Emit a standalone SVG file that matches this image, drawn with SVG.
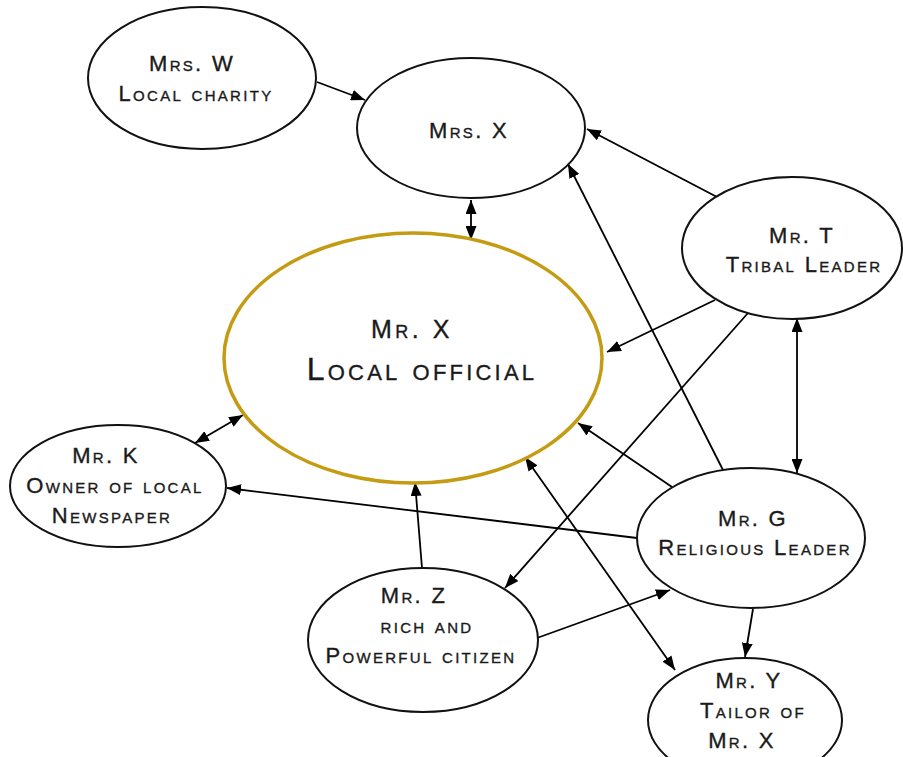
<svg xmlns="http://www.w3.org/2000/svg" width="903" height="757" viewBox="0 0 903 757">
<defs>
<marker id="ah" markerUnits="userSpaceOnUse" markerWidth="15" markerHeight="11" refX="14" refY="5.5" orient="auto-start-reverse" viewBox="0 0 15 11">
<path d="M0,0 L14,5.5 L0,11 Z" fill="#000"/>
</marker>
<style>
.n{fill:#fff;stroke:#111;stroke-width:2}
.main{fill:#fff;stroke:#C49B12;stroke-width:3.5}
text{font-family:"Liberation Sans",Arial,sans-serif;font-variant:small-caps;fill:#1a1a1a;stroke:#1a1a1a;stroke-width:0.35;text-anchor:middle;font-size:22px;letter-spacing:2.3px}
.c line{stroke:#000;stroke-width:1.8;marker-end:url(#ah)}
.c line.d{marker-start:url(#ah)}
</style>
</defs>
<rect width="903" height="757" fill="#fff"/>
<g class="c" id="connectors">
<line x1="317" y1="82" x2="365" y2="100"/>
<line class="d" x1="471" y1="200" x2="471" y2="240"/>
<line x1="717" y1="197" x2="587" y2="129"/>
<line x1="723" y1="470" x2="568" y2="164"/>
<line x1="715" y1="300" x2="607" y2="352"/>
<line x1="748" y1="313" x2="505" y2="588"/>
<line class="d" x1="797" y1="318" x2="797" y2="473"/>
<line x1="672" y1="487" x2="578" y2="423"/>
<line x1="637" y1="538" x2="227" y2="488"/>
<line class="d" x1="195" y1="443" x2="243" y2="415"/>
<line x1="422" y1="568" x2="415" y2="482"/>
<line x1="537" y1="638" x2="670" y2="590"/>
<line class="d" x1="525" y1="457" x2="675" y2="670"/>
<line x1="753" y1="609" x2="745" y2="657"/>
</g>
<g id="mrsw"><ellipse class="n" cx="202" cy="78" rx="114" ry="71"/><text x="192" y="71">Mrs. W</text><text x="196" y="101">Local charity</text></g>
<g id="mrsx"><ellipse class="n" cx="471" cy="128" rx="114" ry="70"/><text x="469" y="138">Mrs. X</text></g>
<g id="mrt"><ellipse class="n" cx="792" cy="248" rx="110" ry="71"/><text x="802" y="243">Mr. T</text><text x="804" y="272">Tribal Leader</text></g>
<g id="mrx"><ellipse class="main" cx="413" cy="358" rx="189" ry="125"/><text x="412" y="338" style="font-size:25px;letter-spacing:3.5px">Mr. X</text><text x="422" y="380" style="font-size:32px;letter-spacing:3.2px">Local official</text></g>
<g id="mrk"><ellipse class="n" cx="118" cy="486" rx="108" ry="61"/><text x="106" y="463">Mr. K</text><text x="115" y="493">Owner of local</text><text x="112" y="523">Newspaper</text></g>
<g id="mrz"><ellipse class="n" cx="423" cy="640" rx="115" ry="72"/><text x="414" y="603">Mr. Z</text><text x="427" y="633">rich and</text><text x="421" y="663">Powerful citizen</text></g>
<g id="mrg"><ellipse class="n" cx="751" cy="538" rx="114" ry="70"/><text x="753" y="526">Mr. G</text><text x="755" y="555">Religious Leader</text></g>
<g id="mry"><ellipse class="n" cx="745" cy="720" rx="97" ry="62"/><text x="749" y="688">Mr. Y</text><text x="753" y="718">Tailor of</text><text x="742" y="748">Mr. X</text></g>
</svg>
